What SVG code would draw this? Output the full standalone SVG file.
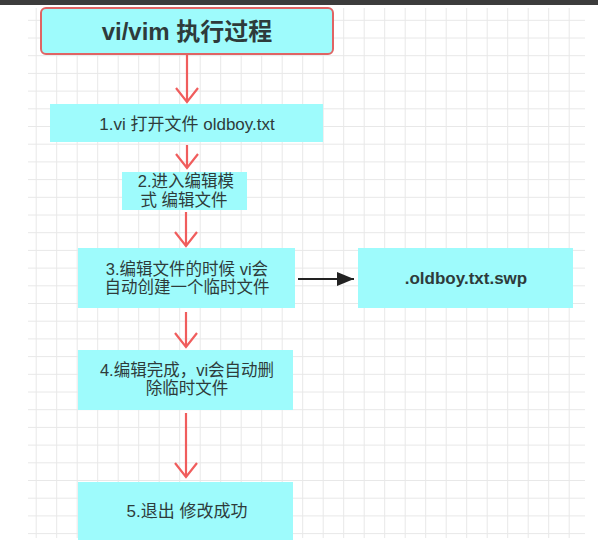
<svg xmlns="http://www.w3.org/2000/svg" width="598" height="546" viewBox="0 0 598 546">
<style>
.box{fill:#9efbfc;}
.t{font-family:"Liberation Sans","Noto Sans CJK SC",sans-serif;font-size:17px;fill:#2e3b3b;text-anchor:middle;}
.m{font-size:16.5px;}
.b{font-weight:bold;}
.red{stroke:#f05d5d;stroke-width:2.2;fill:none;}
.blk{stroke:#222;stroke-width:2.2;fill:none;}
.grid{stroke:#e8e8e8;stroke-width:1;fill:none;}
</style>
<defs>
<marker id="ra" markerUnits="userSpaceOnUse" orient="auto" overflow="visible" refX="0" refY="0" markerWidth="30" markerHeight="30">
<path d="M-14,-11 L0,0 L-14,11" fill="none" stroke="#f05d5d" stroke-width="2.2"/>
</marker>
<marker id="ba" markerUnits="userSpaceOnUse" orient="auto" overflow="visible" refX="0" refY="0" markerWidth="30" markerHeight="30">
<path d="M-17,-7 L0,0 L-17,7 Z" fill="#222"/>
</marker>
</defs>
<rect x="0" y="0" width="598" height="546" fill="#ffffff"/>
<rect x="0" y="0" width="598" height="5" fill="#3c3c3c"/>
<g id="grid" class="grid">
<path d="M36.2 8V538M56.7 8V538M77.2 8V538M97.7 8V538M118.2 8V538M138.7 8V538M159.2 8V538M179.7 8V538M200.2 8V538M220.7 8V538M241.2 8V538M261.7 8V538M282.2 8V538M302.7 8V538M323.2 8V538M343.7 8V538M364.2 8V538M384.7 8V538M405.2 8V538M425.7 8V538M446.2 8V538M466.7 8V538M487.2 8V538M507.7 8V538M528.2 8V538M548.7 8V538M569.2 8V538"/>
<path d="M28 20.3H585M28 38H585M28 55.7H585M28 73.4H585M28 91.1H585M28 108.8H585M28 126.5H585M28 144.2H585M28 161.9H585M28 179.6H585M28 197.3H585M28 215H585M28 232.7H585M28 250.4H585M28 268.1H585M28 285.8H585M28 303.5H585M28 321.2H585M28 338.9H585M28 356.6H585M28 374.3H585M28 392H585M28 409.7H585M28 427.4H585M28 445.1H585M28 462.8H585M28 480.5H585M28 498.2H585M28 515.9H585M28 533.6H585"/>
</g>
<g id="connectors">
<line class="red" x1="187" y1="55" x2="187" y2="102" marker-end="url(#ra)"/>
<line class="red" x1="187" y1="145" x2="187" y2="168" marker-end="url(#ra)"/>
<line class="red" x1="186" y1="212" x2="186" y2="246" marker-end="url(#ra)"/>
<line class="red" x1="186" y1="312" x2="186" y2="347" marker-end="url(#ra)"/>
<line class="red" x1="186" y1="413" x2="186" y2="477" marker-end="url(#ra)"/>
<line class="blk" x1="298" y1="279" x2="354" y2="279" marker-end="url(#ba)"/>
</g>
<g id="title">
<rect class="box" x="41" y="8" width="292" height="46" rx="5" stroke="#e06464" stroke-width="2"/>
<text class="t b" x="187" y="40" style="font-size:24px">vi/vim 执行过程</text>
</g>
<g id="step1">
<rect class="box" x="50" y="104" width="273" height="38"/>
<text class="t" x="187" y="129.5">1.vi 打开文件 oldboy.txt</text>
</g>
<g id="step2">
<rect class="box" x="122" y="172" width="125" height="38"/>
<text class="t m" x="186" y="187">2.进入编辑模</text>
<text class="t m" x="184" y="205.5">式 编辑文件</text>
</g>
<g id="step3">
<rect class="box" x="78" y="248" width="217" height="60"/>
<text class="t m" x="187" y="274.5">3.编辑文件的时候 vi会</text>
<text class="t m" x="187" y="293">自动创建一个临时文件</text>
</g>
<g id="swp">
<rect class="box" x="358" y="248" width="215" height="60"/>
<text class="t b" x="466" y="284">.oldboy.txt.swp</text>
</g>
<g id="step4">
<rect class="box" x="78" y="350" width="215" height="60"/>
<text class="t m" x="187" y="375.5">4.编辑完成，vi会自动删</text>
<text class="t m" x="187" y="394">除临时文件</text>
</g>
<g id="step5">
<rect class="box" x="78" y="482" width="215" height="58"/>
<text class="t" x="187" y="517">5.退出 修改成功</text>
</g>
</svg>
